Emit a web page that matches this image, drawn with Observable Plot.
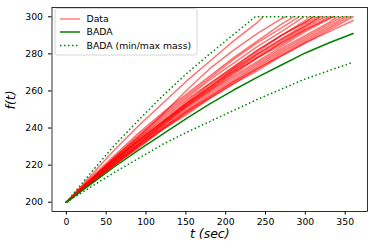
<!DOCTYPE html>
<html><head><meta charset="utf-8">
<script src="https://cdn.jsdelivr.net/npm/d3@7"></script>
<script src="https://cdn.jsdelivr.net/npm/@observablehq/plot@0.6"></script>
<style>body{margin:0;background:#fff;} svg{display:block;}</style>
</head><body><div id="chart"></div>
<script>
// time grid (sec)
const gridT = [0,30,60,90,120,150,180,210,240,270,300,330,360];
// observed runs: f(t) on the grid, then the final point of each run
const dataRuns = [
  [200,214,228,241,253,265,276,287,297],
  [200,212,224,235,247,260,272,282,291,299],
  [200,213,225,237,248,258,268,278,287,296],
  [200,212,224,236,247,257,267,277,286,294],
  [200,212,224,235,246,256,266,275,284,292],
  [200,212,223,234,245,255,264,273,282,290,298],
  [200,212,223,234,244,254,264,273,282,290,297],
  [200,211,222,233,243,253,263,272,280,288,296],
  [200,211,223,233,243,253,262,271,279,287,295],
  [200,211,222,232,242,252,261,270,278,286,294],
  [200,211,222,232,242,251,260,269,278,285,293],
  [200,211,221,231,241,251,260,268,276,284,292,299],
  [200,211,221,231,241,250,259,267,275,283,290,297],
  [200,210,221,231,240,249,258,266,274,282,289,296],
  [200,210,220,230,240,249,257,265,273,281,288,295],
  [200,210,220,230,239,248,257,265,272,280,287,294],
  [200,210,220,230,239,248,256,264,272,279,286,293],
  [200,210,220,229,239,247,256,264,271,279,286,292],
  [200,212,223,233,243,253,262,271,280,288,295],
  [200,211,222,233,243,252,261,270,278,286,293,299],
  [200,210,221,231,242,252,262,272,281,290,297]
];
const dataEndT = [247,276,285,292,298,305,310,315,320,325,330,335,340,345,350,355,360,360,318,336,310];
const dataEndF = [300,300,300,300,300,300,300,300,300,300,300,300,300,300,300,300,300,298,300,300,300];
// BADA model (nominal mass) on the grid
const badaF = [200,209.5,219,228,236.5,245,253,260.5,267.5,274,280.5,286,291];
// BADA min mass / max mass
const badaMinF = [200,208,216,223.5,231,237.5,243.5,249.5,255.5,261,266.5,271,275.5];
const badaMaxT = [0,30,60,90,120,150,180,210,237,360];
const badaMaxF = [200,215.5,230.5,244,257,269,280,290.5,300,300];
// ticks and labels
const xTicks = [0,50,100,150,200,250,300,350];
const yTicks = [200,220,240,260,280,300];
const legendLabels = ["Data","BADA","BADA (min/max mass)"];

const rows = [];
dataRuns.forEach((vals, i) => {
  vals.forEach((f, j) => rows.push({run: i, t: gridT[j], f}));
  rows.push({run: i, t: dataEndT[i], f: dataEndF[i]});
});
const bada = badaF.map((f, j) => ({t: gridT[j], f}));
const badaMin = badaMinF.map((f, j) => ({t: gridT[j], f}));
const badaMax = badaMaxF.map((f, j) => ({t: badaMaxT[j], f}));

const dash = "1.5,2.5";
const chart = Plot.plot({
  width: 374, height: 252,
  marginLeft: 51.5, marginRight: 7, marginTop: 7, marginBottom: 41,
  style: {fontFamily: "DejaVu Sans", fontSize: "9.3px", background: "white", color: "black"},
  x: {domain: [-18, 378], label: null},
  y: {domain: [195, 305], label: null},
  marks: [
    Plot.line(rows, {x: "t", y: "f", z: "run", stroke: "red", strokeOpacity: 0.55, strokeWidth: 1.5}),
    Plot.line(bada, {x: "t", y: "f", stroke: "green", strokeWidth: 1.5}),
    Plot.line(badaMin, {x: "t", y: "f", stroke: "green", strokeWidth: 1.5, strokeDasharray: dash, strokeLinecap: "butt"}),
    Plot.line(badaMax, {x: "t", y: "f", stroke: "green", strokeWidth: 1.5, strokeDasharray: dash, strokeLinecap: "butt"}),
    Plot.frame({stroke: "black", strokeWidth: 0.8}),
    Plot.axisX({ticks: xTicks, tickSize: 3.5, tickPadding: 3.5, label: null}),
    Plot.axisY({ticks: yTicks, tickSize: 3.5, tickPadding: 5.5, label: null}),
    Plot.text(["f(t)"], {text: d => d, frameAnchor: "left", dx: -41, rotate: -90, fontStyle: "italic", fontSize: 12.5}),
    Plot.text(["t (sec)"], {text: d => d, frameAnchor: "bottom", dy: 26.5, fontStyle: "italic", fontSize: 12.5})
  ]
});

// legend inside the axes (upper left)
const svg = d3.select(chart);
const lg = svg.append("g").attr("font-family", "DejaVu Sans").attr("font-size", "9.3px")
  .attr("text-anchor", "start");
lg.append("rect").attr("x", 55).attr("y", 8.5).attr("width", 142).attr("height", 46.5)
  .attr("rx", 2.5).attr("fill", "white").attr("fill-opacity", 0.8)
  .attr("stroke", "#cccccc").attr("stroke-width", 0.8);
const entries = [
  {y: 19, stroke: "red", op: 0.5, dash: null},
  {y: 32, stroke: "green", op: 1, dash: null},
  {y: 45.5, stroke: "green", op: 1, dash: dash}
];
entries.forEach((e, i) => {
  const l = lg.append("line").attr("x1", 60).attr("x2", 80).attr("y1", e.y).attr("y2", e.y)
    .attr("stroke", e.stroke).attr("stroke-opacity", e.op).attr("stroke-width", 1.5)
    .attr("stroke-linecap", "butt");
  if (e.dash) l.attr("stroke-dasharray", e.dash);
  lg.append("text").attr("x", 86.5).attr("y", e.y).attr("dy", "0.35em").attr("fill", "black")
    .attr("text-anchor", "start").text(legendLabels[i]);
});

document.getElementById("chart").appendChild(chart);
</script>
</body></html>
